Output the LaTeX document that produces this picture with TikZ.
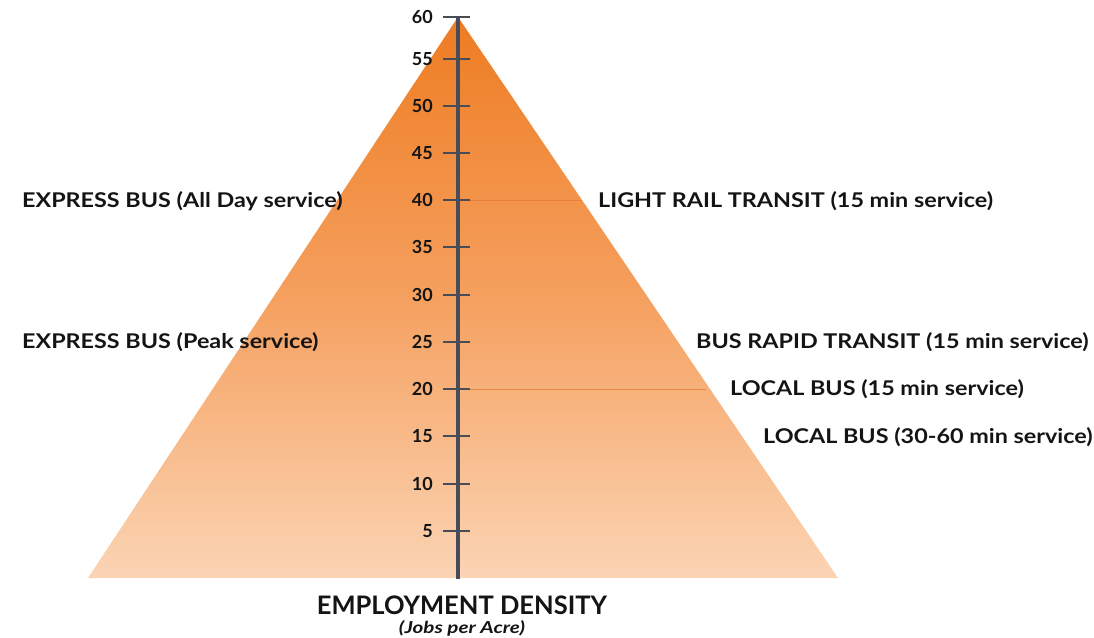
\documentclass[tikz,border=0pt]{standalone}
\usepackage{fontspec}
\setmainfont{Lato}
\newfontfamily\widefont{Lato}[FakeStretch=1.15]
\newfontfamily\widerfont{Lato}[FakeStretch=1.25]
\definecolor{axisgray}{RGB}{72,76,86}
\definecolor{topor}{RGB}{238,124,34}
\definecolor{midor}{RGB}{245,160,95}
\definecolor{botor}{RGB}{251,212,180}
\definecolor{faintline}{RGB}{222,120,50}
\begin{document}
\begin{tikzpicture}[x=1pt,y=-1pt,
  lbl/.style={inner sep=0pt,font=\widefont\fontsize{20.3}{24}\selectfont\bfseries,text=black!92},
  ticklbl/.style={inner sep=0pt,anchor=east,font=\fontsize{18}{20}\selectfont\bfseries,text=black!92},
  tickline/.style={draw=axisgray,line width=2.6pt},
  ]
\useasboundingbox (0,0) rectangle (1094,637);
% triangle
\coordinate (apex) at (458,17);
\coordinate (bl) at (88,578);
\coordinate (br) at (838,578);
\shade[top color=topor,bottom color=botor,middle color=midor] (apex) -- (br) -- (bl) -- cycle;
% faint lines
\coordinate (f40a) at (470,200);
\coordinate (f40b) at (582,200);
\coordinate (f20a) at (470,389);
\coordinate (f20b) at (706,389);
\draw[faintline,line width=0.9pt,opacity=0.7] (f40a) -- (f40b);
\draw[faintline,line width=0.9pt,opacity=0.7] (f20a) -- (f20b);
% axis
\coordinate (atop) at (458,16);
\coordinate (abot) at (458,579);
\draw[axisgray,line width=4pt] (atop) -- (abot);
% ticks
\foreach \v/\y in {60/17,55/59,50/106,45/153,40/200,35/247,30/295,25/342,20/389,15/436,10/484,5/531}{
  \coordinate (tl\v) at (443,\y);
  \coordinate (tr\v) at (470,\y);
  \draw[tickline] (tl\v) -- (tr\v);
  \node[ticklbl] (t\v) at (433,\y) {\v};
}
% labels
\node[lbl,anchor=west] (expall) at (22,201) {EXPRESS BUS (All Day service)};
\node[lbl,anchor=west] (lrt) at (598,201) {LIGHT RAIL TRANSIT (15 min service)};
\node[lbl,anchor=west] (exppeak) at (22,342) {EXPRESS BUS (Peak service)};
\node[lbl,anchor=west] (brt) at (696,342) {BUS RAPID TRANSIT (15 min service)};
\node[lbl,anchor=west] (lb15) at (730,389) {LOCAL BUS (15 min service)};
\node[lbl,anchor=west] (lb30) at (763,437) {LOCAL BUS (30-60 min service)};
\node[inner sep=0pt,font=\fontsize{25.5}{28}\selectfont\bfseries,text=black!92] (emp) at (462,605.5) {EMPLOYMENT DENSITY};
\node[inner sep=0pt,font=\widerfont\fontsize{16.5}{18}\selectfont\bfseries\itshape,text=black!92] (jobs) at (462,628.5) {(Jobs per Acre)};
\end{tikzpicture}
\end{document}
